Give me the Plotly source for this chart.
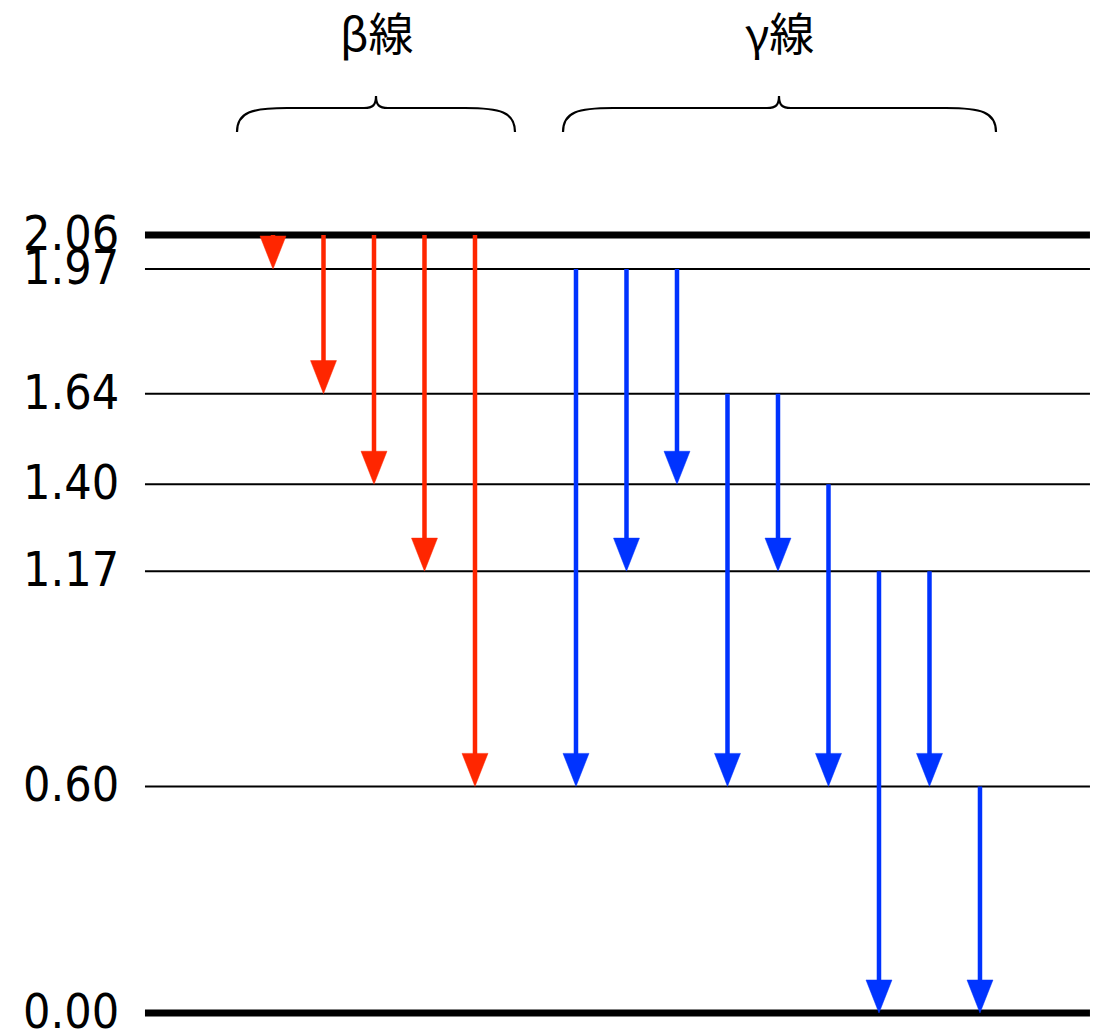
import plotly.graph_objects as go

# ---- data ----
levels = [2.06, 1.97, 1.64, 1.40, 1.17, 0.60, 0.00]
level_labels = ["2.06", "1.97", "1.64", "1.40", "1.17", "0.60", "0.00"]
thick_levels = [2.06, 0.00]

beta_pos = [0, 1, 2, 3, 4]
beta_from = [2.06, 2.06, 2.06, 2.06, 2.06]
beta_to = [1.97, 1.64, 1.40, 1.17, 0.60]

gamma_pos = [6, 7, 8, 9, 10, 11, 12, 13, 14]
gamma_from = [1.97, 1.97, 1.97, 1.64, 1.64, 1.40, 1.17, 1.17, 0.60]
gamma_to = [0.60, 1.17, 1.40, 0.60, 1.17, 0.60, 0.00, 0.60, 0.00]

group_labels = ["β線", "γ線"]

# ---- layout constants ----
W, H = 1103, 1035
X_RANGE = [-5.406, 16.436]
Y_RANGE = [-0.0583, 2.6823]
LINE_X0, LINE_X1 = -2.535, 16.178
HEAD_H = 0.0874   # arrow head height in energy units
HEAD_HW = 0.257   # arrow head half width in x units
RED = "#FF2600"
BLUE = "#0033FF"

fig = go.Figure()

# level lines
for lv in levels:
    thick = lv in thick_levels
    fig.add_trace(go.Scatter(
        x=[LINE_X0, LINE_X1], y=[lv, lv], mode="lines",
        line=dict(color="black", width=7 if thick else 2),
        hoverinfo="skip"))


def add_arrows(pos, e_from, e_to, color):
    sx, sy, hx, hy = [], [], [], []
    for p, a, b in zip(pos, e_from, e_to):
        sx += [p, p, None]
        sy += [a, b + HEAD_H * 0.9, None]
        hx += [p - HEAD_HW, p + HEAD_HW, p, p - HEAD_HW, None]
        hy += [b + HEAD_H, b + HEAD_H, b, b + HEAD_H, None]
    fig.add_trace(go.Scatter(x=sx, y=sy, mode="lines",
                             line=dict(color=color, width=4.5),
                             hoverinfo="skip"))
    fig.add_trace(go.Scatter(x=hx, y=hy, mode="lines", fill="toself",
                             fillcolor=color, line=dict(color=color, width=0.5),
                             hoverinfo="skip"))


add_arrows(beta_pos, beta_from, beta_to, RED)
add_arrows(gamma_pos, gamma_from, gamma_to, BLUE)

# level labels
for lv, lab in zip(levels, level_labels):
    fig.add_annotation(x=121 / W, xref="paper", xanchor="right",
                       y=lv, yref="y", yanchor="middle", yshift=2,
                       text=lab, showarrow=False,
                       font=dict(family="DejaVu Sans Condensed, DejaVu Sans",
                                 size=48, color="black"))


def px(xp, yp):
    return f"{xp / W:.5f},{1 - yp / H:.5f}"


def brace_path(x0, x1, xm, ytop, ymid, yend):
    return ("M " + px(x0, yend) +
            " C " + px(x0, ymid + 4) + " " + px(x0 + 15, ymid) + " " + px(x0 + 50, ymid) +
            " L " + px(xm - 12, ymid) +
            " C " + px(xm - 3, ymid) + " " + px(xm, ymid - 3) + " " + px(xm, ytop) +
            " C " + px(xm, ymid - 3) + " " + px(xm + 3, ymid) + " " + px(xm + 12, ymid) +
            " L " + px(x1 - 50, ymid) +
            " C " + px(x1 - 15, ymid) + " " + px(x1, ymid + 4) + " " + px(x1, yend))


braces = [(237, 515, 376), (563, 996, 779)]
for (x0, x1, xm), lab in zip(braces, group_labels):
    fig.add_shape(type="path", xref="paper", yref="paper",
                  path=brace_path(x0, x1, xm, 96, 108, 132),
                  line=dict(color="black", width=2.2))
    fig.add_annotation(x=xm / W, xref="paper", y=1 - 32 / H, yref="paper",
                       xanchor="center", yanchor="middle", text=lab,
                       showarrow=False,
                       font=dict(family="Noto Sans CJK JP", size=45, color="black"))

fig.update_layout(
    width=W, height=H, margin=dict(l=0, r=0, t=0, b=0),
    paper_bgcolor="white", plot_bgcolor="white", showlegend=False,
    xaxis=dict(range=X_RANGE, visible=False, fixedrange=True),
    yaxis=dict(range=Y_RANGE, visible=False, fixedrange=True),
)

fig.write_html("out.html")
